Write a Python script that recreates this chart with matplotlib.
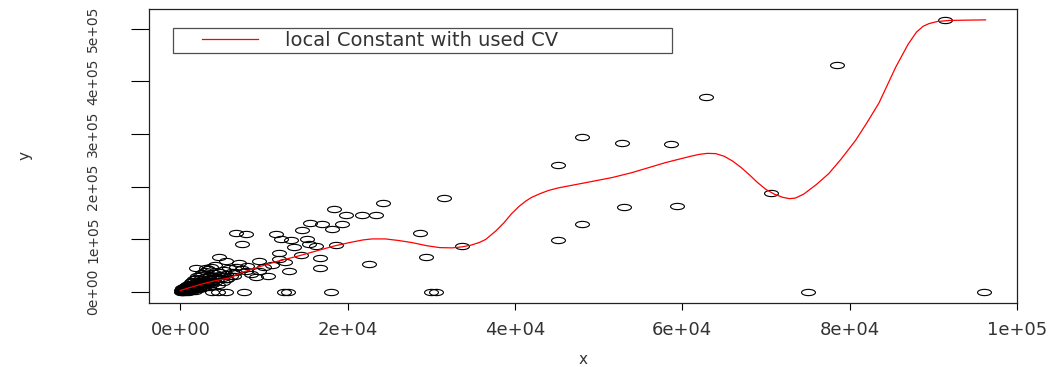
import numpy as np
import matplotlib
matplotlib.use("Agg")
import matplotlib.pyplot as plt
from matplotlib.path import Path
from matplotlib.transforms import Affine2D
from matplotlib.legend_handler import HandlerLine2D

# observed points (x, y)
x_obs = [
    # far points
    91340, 78450, 62800, 48000, 52770, 58620, 45130, 70570, 59340, 53010,
    48000, 45130, 75000, 96100, 31520, 24240, 28660, 29370, 30000, 30500,
    33670, 22570,
    # middle group
    18390, 19820, 21730, 23400, 15520, 16950, 18150, 19340, 14570, 11460,
    12060, 13250, 13610, 15160, 15400, 16240, 18630, 14450, 16720, 16720,
    11820, 11820, 9430, 7400, 7880, 6690, 13010, 7640, 12420, 12900,
    18030, 7880, 9430, 4660, 5490, 1910, 3100, 7400, 3820, 5490, 4500,
    6000, 6500, 5500, 8500, 10000, 10500, 9000, 11000, 12500, 8000, 7000,
    # dense group near the origin
    100, 200, 300, 400, 500, 600, 700, 800, 900, 1000,
    1100, 1200, 1300, 1400, 1500, 1600, 1700, 1800, 1900, 2000,
    2100, 2200, 2300, 2400, 2500, 2600, 2700, 2800, 2900, 3000,
    3100, 3200, 3300, 3400, 3500, 3600, 3800, 4000, 4200, 4400,
    4600, 4800, 5000, 5200, 5500, 5800, 6200, 6600, 250, 450,
    650, 850, 1050, 1250, 1450, 1650, 1850, 2050, 2350, 2650,
    2950, 3300, 3700, 4100, 150, 350, 550, 750, 950, 1150,
    1350, 1550, 1750, 1950, 2250, 2550, 2850, 3150, 3450, 3750,
    4150, 4550, 5100, 5600, 6400, 120, 180, 260, 380, 520,
    640, 780, 920, 1080, 1220, 1380, 1620, 1880, 2150, 2450,
    2750, 3050, 3350, 3900, 4300,
]
y_obs = [
    517000, 431000, 370000, 294000, 284000, 282000, 242000, 189000, 164000, 162000,
    130000, 99000, 0, 0, 179000, 170000, 113000, 67000, 0, 0,
    88000, 53000,
    158000, 147000, 147000, 147000, 132000, 130000, 120000, 130000, 118000, 111000,
    101000, 99000, 86000, 101000, 92000, 88000, 90000, 71000, 65000, 46000,
    74000, 63000, 59000, 92000, 111000, 113000, 40000, 0, 0, 0,
    0, 40000, 40000, 67000, 59000, 46000, 46000, 44000, 0, 0, 0,
    30000, 38000, 25000, 35000, 48000, 30000, 28000, 52000, 58000, 50000, 55000,
    1000, 3000, 500, 4000, 2000, 6000, 1500, 8000, 4000, 10000,
    6000, 2500, 12000, 8000, 5000, 14000, 10000, 17000, 7000, 12000,
    20000, 15000, 9000, 22000, 18000, 12000, 25000, 20000, 15000, 28000,
    23000, 18000, 30000, 25000, 20000, 33000, 27000, 36000, 30000, 24000,
    38000, 32000, 27000, 42000, 35000, 45000, 38000, 48000, 8000, 10000,
    12000, 14000, 16000, 19000, 21000, 24000, 27000, 30000, 33000, 36000,
    40000, 44000, 48000, 52000, 200, 2500, 300, 3500, 800, 4500,
    1500, 9000, 3000, 11000, 5000, 7000, 10000, 13000, 9000, 16000,
    19000, 14000, 20000, 24000, 30000, 4000, 1800, 5500, 2200, 7000,
    3500, 9500, 6500, 3000, 14000, 11000, 6000, 13000, 8500, 16000,
    19000, 21000, 16000, 22000, 28000,
]

# local constant fit
fit_x = [0, 1000, 2500, 4000, 5850, 7500, 9400, 11500, 14200, 16900,
         18500, 20200, 21800, 22900, 24500, 26100, 27700, 29500, 31000, 32500,
         33700, 34700, 35700, 36500, 37700, 38700, 39600, 40500, 41300, 42000,
         43000, 44000, 45200, 48500, 51600, 54000, 58000, 61000, 62000, 63000,
         64000, 65000, 66000, 67000, 68000, 69000, 70000, 71000, 72000, 72800,
         73500, 74500, 76000, 77500, 79000, 80700, 82000, 83500, 85500, 87000,
         88000, 88800, 89500, 90500, 92000, 94000, 96240]
fit_y = [3000, 8000, 15000, 21000, 27000, 38000, 48000, 58000, 69000, 81000,
         88000, 94000, 99000, 101000, 101000, 98000, 94000, 88000, 84500, 84000,
         86000, 89000, 94000, 100000, 116000, 132000, 149000, 163000, 173000, 180000,
         187000, 193000, 198000, 208000, 217500, 227000, 246000, 258000, 261500, 263500,
         263000, 258000, 249000, 237000, 223000, 208000, 195000, 186000, 180000, 177500,
         178500, 186000, 204000, 225000, 253000, 288000, 320000, 359000, 427000, 471000,
         494000, 505000, 510000, 514000, 516000, 516500, 517000]

x_ticks = [0, 20000, 40000, 60000, 80000, 100000]
x_labels = ["0e+00", "2e+04", "4e+04", "6e+04", "8e+04", "1e+05"]
y_ticks = [0, 100000, 200000, 300000, 400000, 500000]
y_labels = ["0e+00", "1e+05", "2e+05", "3e+05", "4e+05", "5e+05"]

plt.rcParams['font.family'] = ['DejaVu Sans']


class PaddedLine(HandlerLine2D):
    # legend line that starts a bit to the right, as in the R legend
    def create_artists(self, legend, orig_handle, xdescent, ydescent,
                       width, height, fontsize, trans):
        arts = super().create_artists(legend, orig_handle, xdescent, ydescent,
                                      width, height, fontsize, trans)
        for a in arts:
            xd = np.asarray(a.get_xdata(), dtype=float)
            if len(xd) >= 2:
                x0 = xd[0] + 0.32 * (xd[-1] - xd[0])
                a.set_xdata(np.linspace(x0, xd[-1], len(xd)))
        return arts


fig = plt.figure(figsize=(10.63, 3.67), dpi=100)
ax = fig.add_axes([0.1402, 0.1744, 0.8165, 0.8011])

# open circles look stretched in the source image
ellipse = Path.unit_circle().transformed(Affine2D().scale(1.0, 0.45))
ax.plot(x_obs, y_obs, linestyle='none', marker=ellipse, markersize=10,
        markerfacecolor='none', markeredgecolor='black', markeredgewidth=0.8)
line, = ax.plot(fit_x, fit_y, color='red', lw=0.9, label='local Constant with used CV')

# R style 4% padding
xr = max(x_obs) - min(x_obs)
yr = max(y_obs) - min(y_obs)
ax.set_xlim(min(x_obs) - 0.04 * xr, max(x_obs) + 0.04 * xr)
ax.set_ylim(min(y_obs) - 0.04 * yr, max(y_obs) + 0.04 * yr)

ax.set_xticks(x_ticks)
ax.set_xticklabels(x_labels, fontsize=13, color='#333333')
ax.set_yticks(y_ticks)
ax.set_yticklabels(y_labels, fontsize=10, rotation=90, va='center', color='#333333')
ax.tick_params(axis='x', length=5, pad=8, width=0.8)
ax.tick_params(axis='y', length=13, pad=22, width=0.8)
for s in ax.spines.values():
    s.set_linewidth(0.9)
    s.set_color('#222222')

ax.set_xlabel('x', fontsize=11, color='#333333')
ax.set_ylabel('y', fontsize=11, color='#333333')
ax.xaxis.set_label_coords(0.5, -0.165)
ax.yaxis.set_label_coords(-0.134, 0.5)

leg = ax.legend(handles=[line], loc='upper left',
                bbox_to_anchor=(0.0276, 0.83, 0.575, 0.105),
                mode='expand', fontsize=14, handlelength=4.2, handletextpad=1.4,
                borderpad=0.15, frameon=True, fancybox=False, borderaxespad=0,
                handler_map={line: PaddedLine()})
leg.get_frame().set_edgecolor('#222222')
leg.get_frame().set_linewidth(0.9)
for t in leg.get_texts():
    t.set_color('#333333')

fig.savefig('out.png', dpi=100)
